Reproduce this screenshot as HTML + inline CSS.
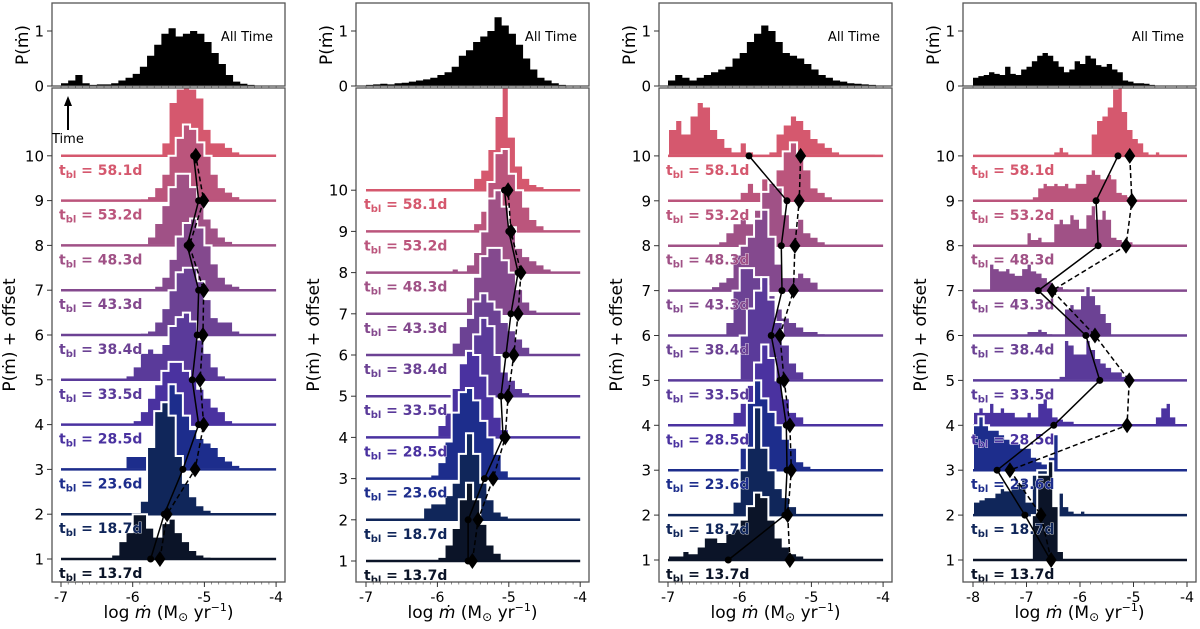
<!DOCTYPE html>
<html><head><meta charset="utf-8">
<style>
html,body{margin:0;padding:0;background:#fff;}
svg{display:block;font-family:"DejaVu Sans","Liberation Sans",sans-serif;}
</style></head>
<body>
<svg id="fig" width="1200" height="629" viewBox="0 0 1200 629" xmlns="http://www.w3.org/2000/svg"></svg>
<script>
// ---- data ----
const rowLabels = ["13.7d","18.7d","23.6d","28.5d","33.5d","38.4d","43.3d","48.3d","53.2d","58.1d"];
const rowColors = ["#0b1428","#10265a","#1d2d8c","#4a32a0","#5a3a9a","#6c4294","#84498e","#a05186","#bb557c","#d5586e"];

const p1All = [0.05,0.1,0.2,0.05,0.02,0.03,0.03,0.05,0.1,0.15,0.22,0.35,0.55,0.75,0.95,1.05,0.9,0.95,1.0,0.95,0.8,0.6,0.4,0.2,0.08,0.04,0.02,0.01,0,0];
const p2All = [0.02,0.03,0.04,0.03,0.05,0.06,0.08,0.1,0.12,0.15,0.2,0.25,0.35,0.55,0.65,0.8,0.9,1.0,1.25,1.1,0.95,0.75,0.5,0.3,0.15,0.1,0.05,0.02,0.01,0];
const p3All = [0.1,0.2,0.15,0.1,0.15,0.2,0.25,0.3,0.35,0.5,0.6,0.8,0.95,1.1,1.0,0.8,0.6,0.55,0.5,0.4,0.3,0.2,0.15,0.1,0.08,0.05,0.04,0.03,0.02,0.01];
const p4All = [0.15,0.18,0.2,0.25,0.22,0.2,0.35,0.22,0.2,0.3,0.35,0.45,0.55,0.6,0.55,0.45,0.35,0.25,0.3,0.45,0.4,0.55,0.5,0.38,0.35,0.4,0.3,0.25,0.1,0.08,0.05,0.05,0.04,0.02,0.01,0,0,0,0,0];

const p1Rows = [
 [0,0,0,0,0,0,0,0.1,0.4,0.6,1.0,1.0,0.7,0.5,0.8,0.9,0.6,0.4,0.2,0.1,0.05,0,0,0,0,0,0,0,0,0],
 [0,0,0,0,0,0,0,0,0,0,0,0.3,1.5,2.3,2.5,2.2,1.3,0.7,0.4,0.2,0.1,0,0,0,0,0,0,0,0,0],
 [0,0,0,0,0,0,0,0,0,0.3,0.3,0.3,0.5,1.0,1.5,1.9,1.7,1.2,0.9,0.7,0.6,0.5,0.3,0.2,0.1,0,0,0,0,0],
 [0,0,0,0,0,0,0,0,0,0,0.1,0.3,0.6,0.9,1.2,1.4,1.4,1.2,1.0,0.8,0.6,0.4,0.3,0.1,0,0,0,0,0,0],
 [0,0,0,0,0,0,0,0,0,0.1,0.3,0.6,0.7,0.6,0.8,1.2,1.4,1.5,1.3,0.9,0.6,0.3,0.1,0,0,0,0,0,0,0],
 [0,0,0,0,0,0,0,0,0,0,0,0.05,0.1,0.3,0.6,1.0,1.4,1.5,1.5,1.2,0.8,0.4,0.3,0.3,0.1,0,0,0,0,0],
 [0,0,0,0,0,0,0,0,0,0,0,0,0,0.1,0.3,0.7,1.2,1.5,1.6,1.4,1.0,0.6,0.3,0.15,0.1,0.05,0,0,0,0],
 [0,0,0,0,0,0,0,0,0,0,0,0,0.2,0.5,0.9,1.3,1.6,1.6,1.3,1.0,0.6,0.4,0.2,0.1,0,0,0,0,0,0],
 [0,0,0,0,0,0,0,0,0,0,0,0.05,0.1,0.3,0.6,1.0,1.4,1.7,1.6,1.3,1.0,0.6,0.3,0.2,0.1,0,0,0,0,0],
 [0,0,0,0,0,0,0,0,0,0,0,0,0,0,0.3,1.2,1.5,1.6,1.5,1.3,0.6,0.3,0.3,0.2,0.1,0,0,0,0,0]
];
const p2Rows = [
 [0,0,0,0,0,0,0,0,0,0,0.1,0.4,0.8,1.5,1.9,1.5,0.9,0.4,0.2,0,0,0,0,0,0,0,0,0,0,0],
 [0,0,0,0,0,0,0,0,0.3,0.4,0.4,0.6,0.9,1.6,2.1,1.6,0.9,0.5,0.2,0.1,0,0,0,0,0,0,0,0,0,0],
 [0,0,0,0,0,0,0,0,0,0.1,0.4,0.9,1.6,2.1,2.2,1.9,1.4,1.0,0.6,0.2,0,0,0,0,0,0,0,0,0,0],
 [0,0,0,0,0,0,0,0,0,0,0.3,0.6,1.2,1.8,2.1,2.0,1.5,1.0,0.5,0.2,0,0,0,0,0,0,0,0,0,0],
 [0,0,0,0,0,0,0,0,0,0,0,0,0.1,0.5,1.0,1.5,1.9,1.7,1.0,0.6,0.4,0.2,0.1,0,0,0,0,0,0,0],
 [0,0,0,0,0,0,0,0,0,0,0,0,0.3,0.7,0.9,1.3,1.5,1.3,1.1,0.8,0.6,0.4,0.2,0,0,0,0,0,0,0],
 [0,0,0,0,0,0,0,0,0,0,0,0,0,0,0.4,0.9,1.4,1.6,1.6,1.3,1.0,0.6,0.3,0.1,0.05,0.05,0.05,0,0,0],
 [0,0,0,0,0,0,0,0,0,0,0.05,0,0.1,0,0.2,0.5,1.0,1.8,2.0,1.6,1.1,0.6,0.4,0.3,0.2,0.1,0,0,0,0],
 [0,0,0,0,0,0,0,0,0,0,0,0,0,0,0,0.2,0.5,1.2,1.9,2.0,1.4,1.0,0.6,0.3,0.15,0.05,0,0,0,0],
 [0,0,0,0,0,0,0,0,0,0,0,0,0,0,0,0.3,0.5,1.0,1.8,2.5,1.3,0.6,0.3,0.15,0.1,0,0,0,0,0]
];
const p3Rows = [
 [0.1,0.1,0.2,0.15,0.3,0.5,0.5,0.4,0.6,0.7,0.9,1.2,1.5,1.4,0.9,0.5,0.3,0.15,0.1,0,0,0,0,0,0,0,0,0,0,0],
 [0,0,0,0,0,0,0,0,0,0.3,1.0,1.5,2.4,1.5,1.0,0.6,0.4,0.2,0,0,0,0,0,0,0,0,0,0,0,0],
 [0,0,0,0,0,0,0,0,0,0,0.5,1.5,2.0,1.6,1.3,1.0,0.7,0.5,0.2,0.1,0,0,0,0,0,0,0,0,0,0],
 [0,0,0,0,0,0,0,0,0,0.3,0.5,0.9,1.4,1.8,1.5,1.0,0.6,0.3,0.2,0,0,0,0,0,0,0,0,0,0,0],
 [0,0,0,0,0,0,0,0,0,0,1.0,1.6,2.0,2.3,1.8,1.3,0.8,0.4,0.2,0,0,0,0,0,0,0,0,0,0,0],
 [0,0,0,0,0,0,0,0,0.3,1.0,1.5,1.5,1.3,1.1,0.9,0.6,0.4,0.3,0.2,0.1,0.1,0.05,0,0,0,0,0,0,0,0],
 [0,0,0,0,0,0,0.1,0.2,0.3,0.8,1.0,1.2,1.6,1.8,1.2,0.6,0.3,0.3,0.4,0.3,0.2,0,0,0,0,0,0,0,0,0],
 [0,0,0,0,0,0,0,0.1,0.3,0.5,0.6,0.5,0.8,1.2,1.4,1.3,0.7,0.4,0.6,0.3,0.2,0.1,0,0,0,0,0,0,0,0],
 [0,0,0,0,0,0,0,0,0,0.05,0.2,0.4,0.2,0.5,0.3,0.7,1.1,1.3,1.0,0.7,0.3,0.2,0.1,0,0,0,0,0,0,0],
 [0.6,0.8,0.5,0.9,1.2,1.1,0.6,0.4,0.2,0.1,0.3,0.1,0.05,0.05,0.1,0.5,0.7,0.9,0.8,0.6,0.4,0.3,0.2,0.1,0.05,0.05,0.05,0.05,0.05,0]
];
const p4Rows = [
 [0,0,0,0,0,0,0,0,0,0,0,1.0,1.9,1.9,2.2,1.2,0.2,0,0,0,0,0,0,0,0,0,0,0,0,0,0,0,0,0,0,0,0,0,0,0],
 [0.3,0.35,0.4,0.4,0.5,0.6,0.55,0.6,0.7,0.8,0.3,0.9,1.0,1.0,0.6,0.2,0.5,0.2,0.1,0.05,0.1,0,0,0,0,0,0,0,0,0,0,0,0,0,0,0,0,0,0,0],
 [1.0,1.2,1.0,0.9,0.9,0.8,0.7,0.6,0.6,0.5,0.5,0.3,0.2,0.15,0.3,0.8,0,0,0,0,0,0,0,0,0,0,0,0,0,0,0,0,0,0,0,0,0,0,0,0],
 [0.3,0.4,0.3,0.5,0.3,0.4,0.3,0.3,0.2,0.2,0.3,0.2,0.5,0.6,0.4,0.2,0.15,0.1,0.1,0.05,0.05,0,0,0,0,0,0,0,0,0,0,0,0,0,0.2,0.4,0.5,0.2,0,0],
 [0,0,0,0,0,0,0,0,0,0,0,0,0,0,0,0,0.1,0.9,0.8,0.6,0.6,0.9,0.7,0.5,0.4,0.3,0.2,0.2,0.1,0.1,0,0,0,0,0,0,0,0,0,0],
 [0,0,0,0,0,0,0,0,0,0,0.1,0.1,0.15,0.1,0.05,0,0,0.6,0.7,0.6,0.9,1.1,0.9,0.7,0.5,0.3,0,0,0,0,0,0,0,0,0,0,0,0,0,0],
 [0,0,0,0.6,0.5,0.45,0.5,0.4,0.35,0.5,0.6,0.45,0.4,0.3,0.2,0.1,0.1,0.05,0,0,0,0,0,0,0,0,0,0,0,0,0,0,0,0,0,0,0,0,0,0],
 [0,0,0,0,0,0,0,0,0,0,0.3,0.15,0.2,0.1,0.1,0.5,0.6,0.5,0.7,0.6,0.4,0.7,0.9,0.6,0.8,0.6,0.2,0.15,0.1,0.1,0.05,0.05,0,0,0,0,0,0,0,0],
 [0,0,0,0,0,0,0,0,0,0,0.05,0.1,0.3,0.4,0.35,0.4,0.35,0.4,0.3,0.4,0.4,0.6,0.7,0.6,0.5,0.6,0.5,0.2,0.15,0.1,0.05,0.05,0.05,0.05,0,0,0,0,0,0],
 [0,0,0,0,0,0,0,0,0,0,0,0,0,0,0,0.1,0.2,0.1,0,0,0,0,0.5,0.8,0.9,1.1,1.5,1.6,1.0,0.6,0.4,0.3,0.1,0,0.1,0,0,0,0,0]
];
// mean (solid, circles) and median (dashed, diamonds), rows 1..10
const p1Mean = [-5.75,-5.56,-5.30,-5.08,-5.17,-5.10,-5.08,-5.24,-5.08,-5.15];
const p1Med  = [-5.62,-5.52,-5.13,-5.01,-5.06,-5.02,-5.01,-5.21,-5.01,-5.12];
const p2Mean = [-5.57,-5.57,-5.34,-5.08,-5.11,-5.04,-4.97,-4.87,-5.00,-5.06];
const p2Med  = [-5.51,-5.43,-5.22,-5.05,-5.01,-4.93,-4.87,-4.83,-4.97,-5.01];
const p3Mean = [-6.16,-5.37,-5.34,-5.35,-5.44,-5.56,-5.41,-5.42,-5.34,-5.87];
const p3Med  = [-5.30,-5.33,-5.28,-5.30,-5.38,-5.44,-5.25,-5.23,-5.17,-5.15];
const p4Mean = [-6.55,-7.03,-7.55,-6.49,-5.63,-5.89,-6.78,-5.66,-5.70,-5.29];
const p4Med  = [-6.54,-6.73,-7.31,-5.12,-5.08,-5.72,-6.52,-5.14,-5.03,-5.07];
const xTicksA = [-7,-6,-5,-4];
const xTicksB = [-8,-7,-6,-5,-4];
const yTicks = [1,2,3,4,5,6,7,8,9,10];

// ---- layout ----
const panels = [
 {id:"p1", L:52, R:285, x0:61, xs:71.7, xmin:-7, xmax:-4, bw:0.1, y1:559, ys:44.8, all:p1All, rows:p1Rows, mean:p1Mean, med:p1Med, ticks:xTicksA, minor:0.1, time:true},
 {id:"p2", L:356, R:589, x0:366, xs:71.4, xmin:-7, xmax:-4, bw:0.1, y1:561, ys:41.2, all:p2All, rows:p2Rows, mean:p2Mean, med:p2Med, ticks:xTicksA, minor:0.1},
 {id:"p3", L:659, R:892, x0:668, xs:71.7, xmin:-7, xmax:-4, bw:0.1, y1:560, ys:44.9, all:p3All, rows:p3Rows, mean:p3Mean, med:p3Med, ticks:xTicksA, minor:0.1},
 {id:"p4", L:963, R:1196, x0:973, xs:53.5, xmin:-8, xmax:-4, bw:0.1, y1:560, ys:44.9, all:p4All, rows:p4Rows, mean:p4Mean, med:p4Med, ticks:xTicksB, minor:0.2}
];
const TT=3, TB=86, MT=88, MB=582, TOPS=55;
const NS="http://www.w3.org/2000/svg";
const svg=document.getElementById("fig");
function mk(tag,attrs,parent){const e=document.createElementNS(NS,tag);for(const k in attrs)e.setAttribute(k,attrs[k]);(parent||svg).appendChild(e);return e;}

const defs=mk("defs",{});
panels.forEach(p=>{
  const X=v=>p.x0+(v-p.xmin)*p.xs;
  const Y=v=>p.y1-(v-1)*p.ys;
  const g=mk("g",{});
  
  
  const cp=mk("clipPath",{id:"clip-"+p.id},defs);
  mk("rect",{x:p.L,y:MT,width:p.R-p.L,height:MB-MT},cp);
  const ct=mk("clipPath",{id:"clipt-"+p.id},defs);
  mk("rect",{x:p.L,y:TT,width:p.R-p.L,height:TB-TT},ct);

  // top histogram
  const tg=mk("g",{"clip-path":"url(#clipt-"+p.id+")"},g);
  let d="M"+X(p.xmin)+","+TB;
  p.all.forEach((h,i)=>{const a=X(p.xmin+i*p.bw),b=X(p.xmin+(i+1)*p.bw),y=TB-h*TOPS;d+=" L"+a+","+y+" L"+b+","+y;});
  d+=" L"+X(p.xmin+p.all.length*p.bw)+","+TB+" Z";
  const th=mk("path",{d:d,fill:"#000"},tg);
  
  
  const at=mk("text",{x:p.R-12,y:41,"text-anchor":"end","font-size":"13"},g);
  at.textContent="All Time";
  
  

  // main rows, top down
  const mg=mk("g",{"clip-path":"url(#clip-"+p.id+")"},g);
  const lg=mk("g",{"clip-path":"url(#clip-"+p.id+")"},g);
  const og=mk("g",{"clip-path":"url(#clip-"+p.id+")"},g);
  for(let r=9;r>=0;r--){
    const base=Y(r+1), arr=p.rows[r];
    let d="M"+X(p.xmin)+","+base;
    arr.forEach((h,i)=>{const a=X(p.xmin+i*p.bw),b=X(p.xmin+(i+1)*p.bw),y=base-h*p.ys;d+=" L"+a+","+y+" L"+b+","+y;});
    d+=" L"+X(p.xmin+arr.length*p.bw)+","+base+" Z";
    const hp=mk("path",{d:d,fill:rowColors[r],stroke:"#fff","stroke-width":"2","stroke-linejoin":"miter"},mg);
    
    
    const bl=mk("line",{x1:X(p.xmin),x2:X(p.xmax),y1:base,y2:base,stroke:rowColors[r],"stroke-width":"2.5"},mg);
    
    
    const lt=mk("text",{x:X(p.xmin)-2,y:base+19,"font-size":"14","font-weight":"bold",fill:rowColors[r],stroke:"#fff","stroke-width":"0.8","paint-order":"stroke"},lg);
    lt.innerHTML='t<tspan font-size="10" dy="3">bl</tspan><tspan dy="-3"> = '+rowLabels[r]+'</tspan>';
    
    
  }
  // mean and median lines
  const mp=p.mean.map((v,i)=>X(v)+","+Y(i+1)).join(" ");
  const ml=mk("polyline",{points:mp,fill:"none",stroke:"#000","stroke-width":"1.5"},og);
  
  
  const dp=p.med.map((v,i)=>X(v)+","+Y(i+1)).join(" ");
  const dl=mk("polyline",{points:dp,fill:"none",stroke:"#000","stroke-width":"1.5","stroke-dasharray":"5,3"},og);
  
  
  p.mean.forEach((v,i)=>{
    const c=mk("circle",{cx:X(v),cy:Y(i+1),r:3.5,fill:"#000"},og);
    
    
  });
  p.med.forEach((v,i)=>{
    const x=X(v),y=Y(i+1);
    const dm=mk("polygon",{points:(x)+","+(y-8)+" "+(x+5.5)+","+y+" "+x+","+(y+8)+" "+(x-5.5)+","+y,fill:"#000"},og);
    
    
  });

  // frames
  mk("rect",{x:p.L,y:TT,width:p.R-p.L,height:TB-TT,fill:"none",stroke:"#555","stroke-width":"1.3"},g);
  mk("rect",{x:p.L,y:MT,width:p.R-p.L,height:MB-MT,fill:"none",stroke:"#555","stroke-width":"1.3"},g);

  // x ticks
  for(let v=p.xmin;v<=p.xmax+1e-6;v+=p.minor){
    const x=X(v);
    mk("line",{x1:x,x2:x,y1:MB,y2:MB+2.5,stroke:"#444","stroke-width":"0.6"},g);
    mk("line",{x1:x,x2:x,y1:TB,y2:TB+2,stroke:"#444","stroke-width":"0.6"},g);
  }
  p.ticks.forEach(v=>{
    const x=X(v);
    mk("line",{x1:x,x2:x,y1:MB,y2:MB+5,stroke:"#333","stroke-width":"1"},g);
    const t=mk("text",{x:x,y:MB+20,"text-anchor":"middle","font-size":"14"},g);
    t.textContent=String(v);
    
    
  });
  // y ticks main
  yTicks.forEach(v=>{
    const y=Y(v);
    mk("line",{x1:p.L-5,x2:p.L,y1:y,y2:y,stroke:"#333","stroke-width":"1"},g);
    const t=mk("text",{x:p.L-8,y:y+5.5,"text-anchor":"end","font-size":"15"},g);
    t.textContent=String(v);
    
    
  });
  // y ticks top
  [0,1].forEach(v=>{
    const y=TB-v*TOPS;
    mk("line",{x1:p.L-5,x2:p.L,y1:y,y2:y,stroke:"#333","stroke-width":"1"},g);
    const t=mk("text",{x:p.L-8,y:y+5.5,"text-anchor":"end","font-size":"15"},g);
    t.textContent=String(v);
    
    
  });
  // axis titles
  const yl=mk("text",{x:0,y:0,"text-anchor":"middle","font-size":"17",transform:"translate("+(p.L-37)+",335) rotate(-90)"},g);
  yl.textContent="P(ṁ) + offset";
  
  
  const yt=mk("text",{x:0,y:0,"text-anchor":"middle","font-size":"17",transform:"translate("+(p.L-24)+",45) rotate(-90)"},g);
  yt.textContent="P(ṁ)";
  
  
  const xl=mk("text",{x:(p.L+p.R)/2,y:618,"text-anchor":"middle","font-size":"17"},g);
  xl.innerHTML='log <tspan font-style="italic">ṁ</tspan> (M<tspan font-size="12" dy="3">⊙</tspan><tspan dy="-3"> yr</tspan><tspan font-size="11" dy="-7">−1</tspan><tspan dy="7">)</tspan>';
  
  

  if(p.time){
    const ar=mk("g",{},g);
    
    
    mk("line",{x1:68,x2:68,y1:130,y2:103,stroke:"#000","stroke-width":"2"},ar);
    mk("polygon",{points:"68,96 64,106 72,106",fill:"#000"},ar);
    const tt=mk("text",{x:52,y:143,"font-size":"13"},ar);
    tt.textContent="Time";
  }
});
</script>
</body></html>
